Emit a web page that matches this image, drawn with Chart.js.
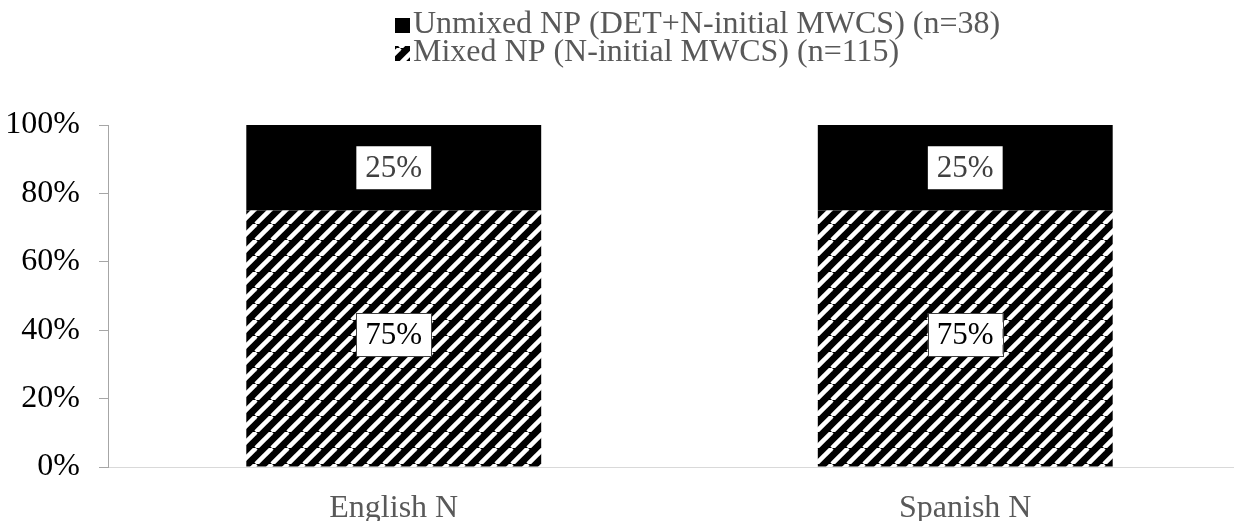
<!DOCTYPE html>
<html>
<head>
<meta charset="utf-8">
<script src="https://cdn.jsdelivr.net/npm/chart.js@4"></script>
<style>
  html, body { margin: 0; padding: 0; background: #fff; overflow: hidden; }
  #wrap { width: 1260px; height: 521px; }
</style>
</head>
<body>
<div id="wrap"><canvas id="chart" width="1260" height="521"></canvas></div>
<script>
// values (percent)
var categories = ['English N', 'Spanish N'];
var mixedLabel = 'Mixed NP (N-initial MWCS) (n=115)';
var unmixedLabel = 'Unmixed NP (DET+N-initial MWCS) (n=38)';
var mixedValues = [75, 75];
var unmixedValues = [25, 25];
var yTicks = [0, 20, 40, 60, 80, 100];

var SERIF = "'Liberation Serif', 'Times New Roman', serif";

// wide upward diagonal hatch, white on black
function makeHatch() {
  var t = document.createElement('canvas');
  t.width = 16; t.height = 16;
  var c = t.getContext('2d');
  c.fillStyle = '#000';
  c.fillRect(0, 0, 16, 16);
  c.strokeStyle = '#fff';
  c.lineWidth = 4.5;
  [-16, 0, 16].forEach(function(x0) {
    c.beginPath();
    c.moveTo(x0, 16);
    c.lineTo(x0 + 16, 0);
    c.stroke();
  });
  return document.getElementById('chart').getContext('2d').createPattern(t, 'repeat');
}
var hatch = makeHatch();

// boxed value labels in the middle of each segment
var valueLabels = {
  id: 'valueLabels',
  afterDatasetsDraw: function(chart) {
    var ctx = chart.ctx;
    ctx.save();
    ctx.font = '31px ' + SERIF;
    ctx.textAlign = 'center';
    ctx.textBaseline = 'middle';
    chart.data.datasets.forEach(function(ds, di) {
      var meta = chart.getDatasetMeta(di);
      meta.data.forEach(function(bar, i) {
        var txt = ds.data[i] + '%';
        var cy = (bar.y + bar.base) / 2 - (di === 0 ? 4 : 0);
        var w = ctx.measureText(txt).width + 18;
        var h = 43;
        ctx.fillStyle = '#fff';
        ctx.fillRect(bar.x - w / 2, cy - h / 2, w, h);
        if (di === 0) {
          ctx.strokeStyle = '#404040';
          ctx.lineWidth = 1;
          ctx.strokeRect(Math.round(bar.x - w / 2) + 0.5, Math.round(cy - h / 2) + 0.5, Math.round(w), h);
        }
        ctx.fillStyle = di === 0 ? '#000' : '#404040';
        ctx.fillText(txt, bar.x, cy + 1);
      });
    });
    ctx.restore();
  }
};

// two-row legend, left aligned, unmixed first
var stackedLegend = {
  id: 'stackedLegend',
  afterDraw: function(chart) {
    var ctx = chart.ctx;
    var rows = chart.data.datasets.slice().reverse();
    ctx.save();
    ctx.font = '32px ' + SERIF;
    ctx.textBaseline = 'alphabetic';
    rows.forEach(function(ds, r) {
      var base = 33 + r * 28;
      ctx.fillStyle = ds.backgroundColor;
      ctx.fillRect(395, base - 15, 15, 15);
      ctx.fillStyle = '#595959';
      ctx.fillText(ds.label, 413, base);
    });
    ctx.restore();
  }
};

new Chart(document.getElementById('chart'), {
  type: 'bar',
  data: {
    labels: categories,
    datasets: [
      { label: mixedLabel, data: mixedValues, backgroundColor: hatch },
      { label: unmixedLabel, data: unmixedValues, backgroundColor: '#000' }
    ]
  },
  options: {
    responsive: false,
    animation: false,
    layout: { padding: { top: 125, right: 9, left: 7, bottom: 0 } },
    datasets: { bar: { categoryPercentage: 0.516, barPercentage: 1, borderWidth: 0 } },
    plugins: { legend: { display: false }, tooltip: { enabled: false } },
    scales: {
      x: {
        stacked: true,
        grid: { display: false },
        border: { display: true, color: '#d9d9d9', width: 1 },
        ticks: { color: '#595959', font: { family: SERIF, size: 32 }, padding: 14 },
        afterFit: function(axis) { axis.height = 54; }
      },
      y: {
        stacked: true,
        min: 0,
        max: 100,
        afterBuildTicks: function(axis) {
          axis.ticks = yTicks.map(function(v) { return { value: v }; });
        },
        grid: { drawOnChartArea: false, drawTicks: true, tickLength: 9, color: '#a6a6a6' },
        border: { display: true, color: '#a6a6a6', width: 1 },
        ticks: {
          color: '#000',
          font: { family: SERIF, size: 32 },
          padding: 19,
          callback: function(v) { return v + '%'; }
        },
        afterFit: function(axis) { axis.width = 101; }
      }
    }
  },
  plugins: [valueLabels, stackedLegend]
});
</script>
</body>
</html>
